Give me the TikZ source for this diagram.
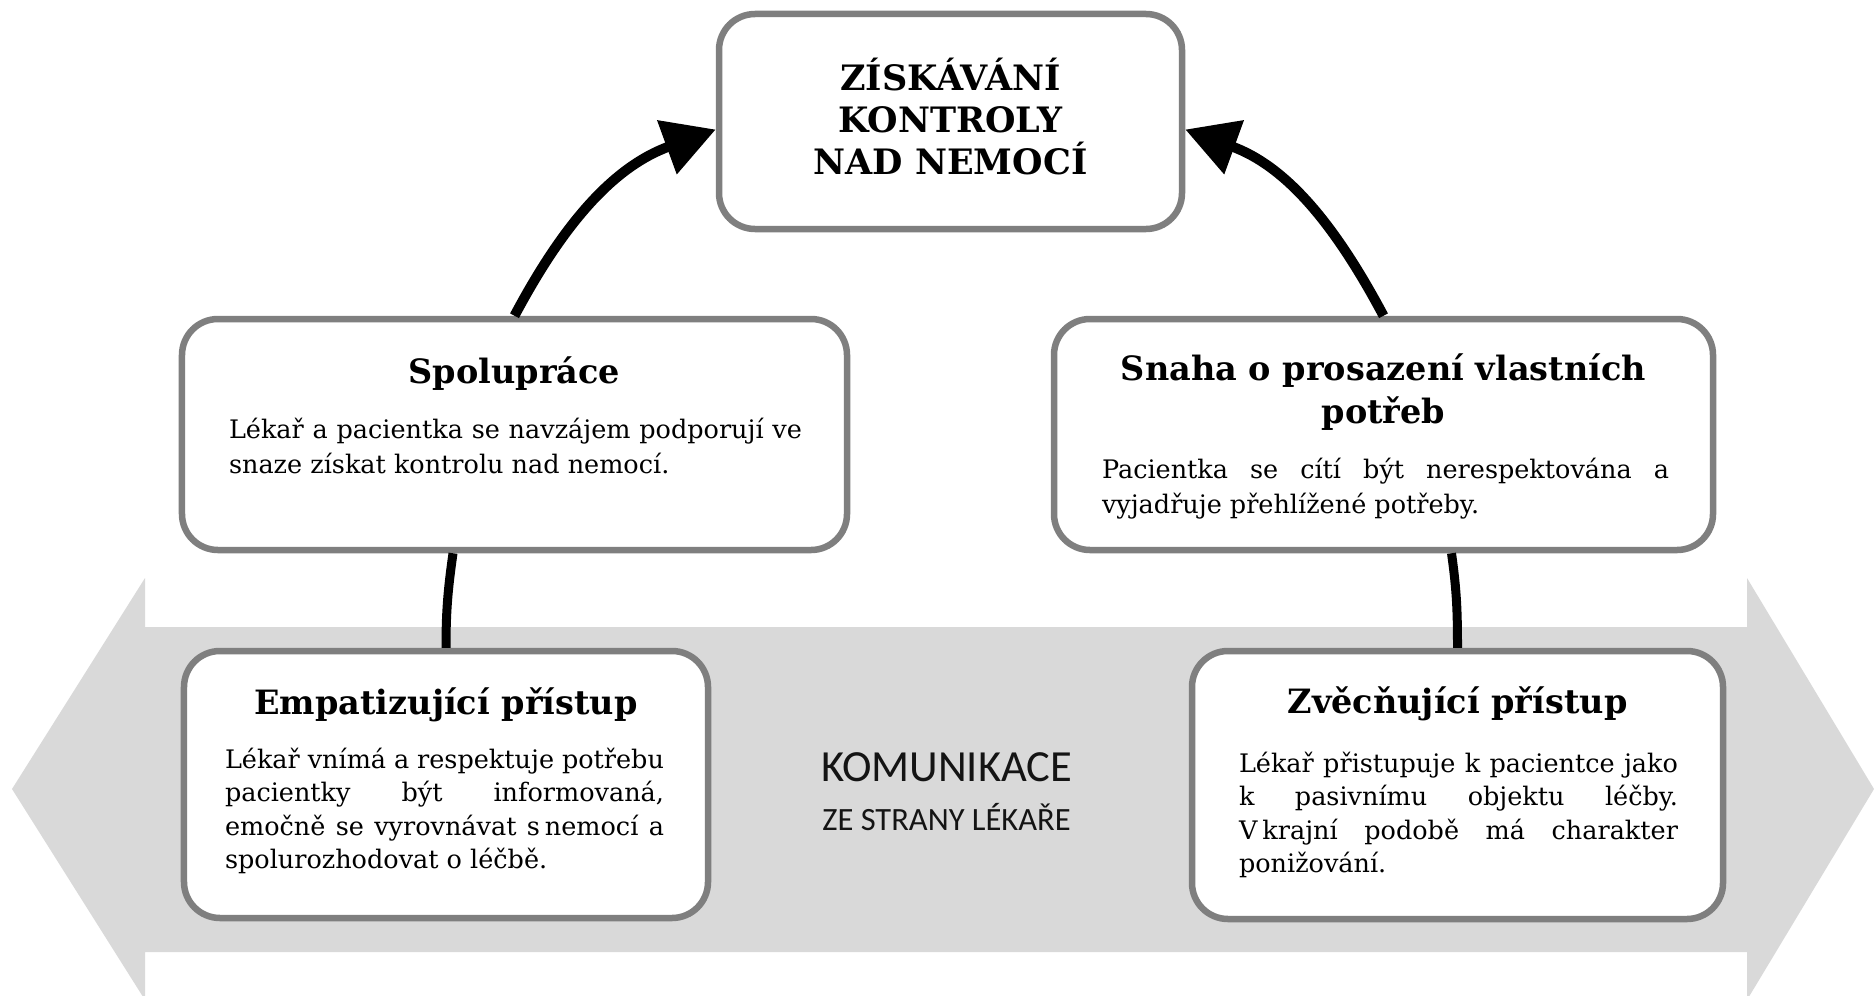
\documentclass[tikz,border=0pt]{standalone}
\usepackage{fontspec}
\setmainfont{DejaVu Serif}
\newfontfamily\komf{Carlito}
\usetikzlibrary{arrows.meta,calc}
\definecolor{bandgray}{HTML}{D9D9D9}
\definecolor{boxgray}{HTML}{7F7F7F}
\newcommand{\ctrline}[2]{\hbox to #1{\hfil #2\hfil}}
\newcommand{\jstline}[2]{\hbox to #1{#2}}
\newcommand{\lftline}[2]{\hbox to #1{#2\hfil}}
\tikzset{
  box/.style={draw=boxgray, line width=6.5bp, fill=white, rounded corners=36bp, inner sep=0pt},
  conn/.style={line width=10bp, -{Triangle[length=52bp,width=55bp]}},
  link/.style={line width=9bp},
  txt/.style={inner sep=0pt, outer sep=0pt},
  headtxt/.style={txt, anchor=base, font=\fontsize{33.5bp}{43bp}\selectfont\bfseries},
  toptxt/.style={txt, anchor=base, font=\fontsize{35bp}{42bp}\selectfont\bfseries},
  bodytxt/.style={txt, anchor=base west, font=\fontsize{25.5bp}{35bp}\selectfont},
  komtxt/.style={txt, anchor=base, text=black!92},
}
\begin{document}
\begin{tikzpicture}[x=1bp,y=-1bp]
\useasboundingbox (0,0) rectangle (1874,995);

% grey double arrow band
\fill[bandgray] (12,789) -- (145,578) -- (145,627) -- (1747,627) -- (1747,578)
  -- (1874,789) -- (1747,1000) -- (1747,952) -- (145,952) -- (145,1000) -- cycle;

% boxes
\node[box, minimum width=463bp, minimum height=215bp] (top) at (950.5,121.5) {};
\node[box, minimum width=665bp, minimum height=231bp] (spol) at (514.5,434.5) {};
\node[box, minimum width=659bp, minimum height=231bp] (snaha) at (1383.5,434.5) {};
\node[box, minimum width=524bp, minimum height=267bp] (emp) at (446,784.5) {};
\node[box, minimum width=531bp, minimum height=268bp] (zvec) at (1457.5,785) {};

% top text
\node[toptxt] (toptext) at (950.5,90) {\vtop{\baselineskip=42bp
  \ctrline{500bp}{ZÍSKÁVÁNÍ}\ctrline{500bp}{KONTROLY}\ctrline{500bp}{NAD NEMOCÍ}}};

% Spolupráce
\node[headtxt] (spolhead) at (514.5,383) {Spolupráce};
\node[bodytxt] (spolbody) at (229,438) {\vtop{\baselineskip=35bp
  \jstline{573bp}{Lékař a pacientka se navzájem podporují ve}
  \lftline{573bp}{snaze získat kontrolu nad nemocí.}}};

% Snaha
\node[headtxt] (snahahead) at (1383.5,380) {\vtop{\baselineskip=43bp
  \ctrline{640bp}{Snaha o prosazení vlastních}\ctrline{640bp}{potřeb}}};
\node[bodytxt] (snahabody) at (1102,478) {\vtop{\baselineskip=35bp
  \jstline{567bp}{Pacientka se cítí být nerespektována a}
  \lftline{567bp}{vyjadřuje přehlížené potřeby.}}};

% Empatizující
\node[headtxt] (emphead) at (446,714) {Empatizující přístup};
\node[bodytxt] (empbody) at (225,768) {\vtop{\baselineskip=33.5bp
  \jstline{439bp}{Lékař vnímá a respektuje potřebu}
  \jstline{439bp}{pacientky být informovaná,}
  \jstline{439bp}{emočně se vyrovnávat s\kern5bp nemocí a}
  \lftline{439bp}{spolurozhodovat o léčbě.}}};

% Zvěcňující
\node[headtxt] (zvechead) at (1457.5,713) {Zvěcňující přístup};
\node[bodytxt] (zvecbody) at (1239,772) {\vtop{\baselineskip=33.5bp
  \jstline{439bp}{Lékař přistupuje k pacientce jako}
  \jstline{439bp}{k pasivnímu objektu léčby.}
  \jstline{439bp}{V\kern5bp krajní podobě má charakter}
  \lftline{439bp}{ponižování.}}};

% centre label
\node[komtxt, font=\komf\fontsize{44.5bp}{50bp}\selectfont] (kom) at (946.5,781) {KOMUNIKACE};
\node[komtxt, font=\komf\fontsize{32.5bp}{36bp}\selectfont] (strana) at (946.5,830) {ZE STRANY LÉKAŘE};

% connectors
\coordinate (topL) at ($(top.west)+(0,8)$);
\coordinate (topR) at ($(top.east)+(0,8)$);
\draw[conn] (spol.north) to[out=62,in=200] (topL);
\draw[conn] (snaha.north) to[out=118,in=-20] (topR);

\coordinate (spolB) at ($(emp.north |- spol.south)+(7,0)$);
\coordinate (snahaB) at ($(zvec.north |- snaha.south)+(-6,0)$);
\draw[link] (emp.north) to[out=90,in=-98] (spolB);
\draw[link] (zvec.north) to[out=90,in=-82] (snahaB);
\end{tikzpicture}
\end{document}
